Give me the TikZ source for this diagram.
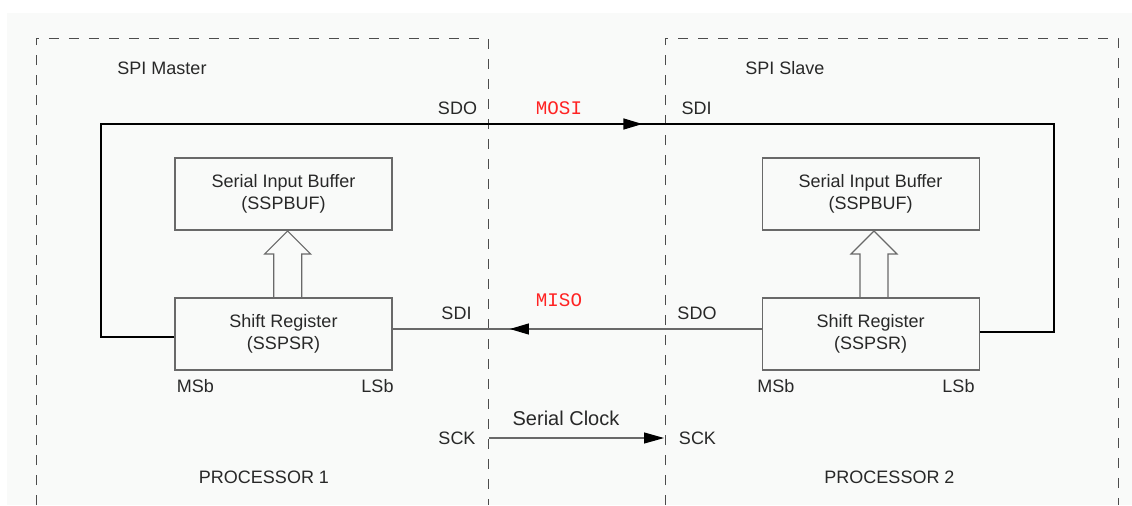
\documentclass[tikz,border=0pt]{standalone}
\usepackage{fontspec}
\setmainfont{Liberation Sans}
\newfontfamily\sigfont{Liberation Mono}
\usetikzlibrary{arrows.meta,decorations.markings}
\definecolor{bggray}{RGB}{249,250,249}
\definecolor{linegray}{RGB}{105,105,105}
\definecolor{txtgray}{RGB}{40,40,40}
\definecolor{sigred}{RGB}{255,35,35}

\begin{document}
\begin{tikzpicture}[x=0.5pt,y=-0.5pt,
  lbl/.style={text=txtgray,font=\fontsize{9}{11.2}\selectfont,inner sep=0pt},
  regbox/.style={draw=linegray,line width=0.55pt,minimum width=108.5pt,minimum height=36pt,
    align=center,text=txtgray,font=\fontsize{9}{11.2}\selectfont,inner sep=0pt},
  sig/.style={text=sigred,font=\sigfont\fontsize{9.6}{11}\selectfont,inner sep=0pt},
  frame/.style={draw=black!70,line width=0.5pt,dash pattern=on 5pt off 5pt},
  wire/.style={line width=0.65pt},
  thin/.style={draw=linegray,line width=0.55pt},
  tipat/.style={postaction={decorate,decoration={markings,
    mark=at position #1 with {\arrow[black]{Triangle[length=9.5pt,width=5.5pt]}}}}}]

\useasboundingbox (0,0) rectangle (1132,505);
\fill[white] (0,0) rectangle (1132,505);
\fill[bggray] (7,13) rectangle (1132,505);

% processor frames
\draw[frame] (36,505) -- (36,38) -- (488,38) -- (488,505);
\draw[frame] (665,505) -- (665,38) -- (1118,38) -- (1118,505);

% registers
\node[regbox] (bufm) at (283.5,194) {Serial Input Buffer\\(SSPBUF)};
\node[regbox] (shm) at (283.5,334) {Shift Register\\(SSPSR)};
\node[regbox] (bufs) at (870.6,194) {Serial Input Buffer\\(SSPBUF)};
\node[regbox] (shs) at (870.6,334) {Shift Register\\(SSPSR)};

% hollow transfer arrows
\foreach \ax in {287.7,874}
  \draw[thin] (\ax-14,298) -- (\ax-14,254) -- (\ax-23,254) -- (\ax,231)
    -- (\ax+23,254) -- (\ax+14,254) -- (\ax+14,298);

% MOSI loop
\coordinate (mtl) at (101,124);
\coordinate (mtr) at (1054,124);
\draw[wire,tipat=0.544] ([yshift=-1.5pt]shm.west) -| (mtl) -- (mtr) |- ([yshift=1pt]shs.east);

% MISO
\draw[thin,tipat=0.682] ([yshift=2.5pt]shs.west) -- ([yshift=2.5pt]shm.east);

% clock
\coordinate (sckm) at (489,438);
\coordinate (scks) at (664,438);
\draw[thin,-{Triangle[length=10pt,width=5.5pt,black]}] (sckm) -- (scks);

% labels
\node[lbl] (mst) at (162,68) {SPI Master};
\node[lbl] (slv) at (785,68) {SPI Slave};
\node[lbl] (sdom) at (457.5,108) {SDO};
\node[sig] (mosi) at (559,108) {MOSI};
\node[lbl] (sdis) at (696.5,108) {SDI};
\node[lbl] (sdim) at (456.5,313) {SDI};
\node[sig] (miso) at (559,300) {MISO};
\node[lbl] (sdos) at (697,313) {SDO};
\node[lbl] (msbm) at (195.5,386) {MSb};
\node[lbl] (lsbm) at (377.5,386) {LSb};
\node[lbl] (msbs) at (776,386) {MSb};
\node[lbl] (lsbs) at (958.5,386) {LSb};
\node[lbl,font=\fontsize{10}{12}\selectfont] (clk) at (566,418) {Serial Clock};
\node[lbl] (sckml) at (457,438) {SCK};
\node[lbl] (scksl) at (697.5,438) {SCK};
\node[lbl] (proc1) at (264,477) {PROCESSOR 1};
\node[lbl] (proc2) at (889.5,477) {PROCESSOR 2};

\end{tikzpicture}
\end{document}
